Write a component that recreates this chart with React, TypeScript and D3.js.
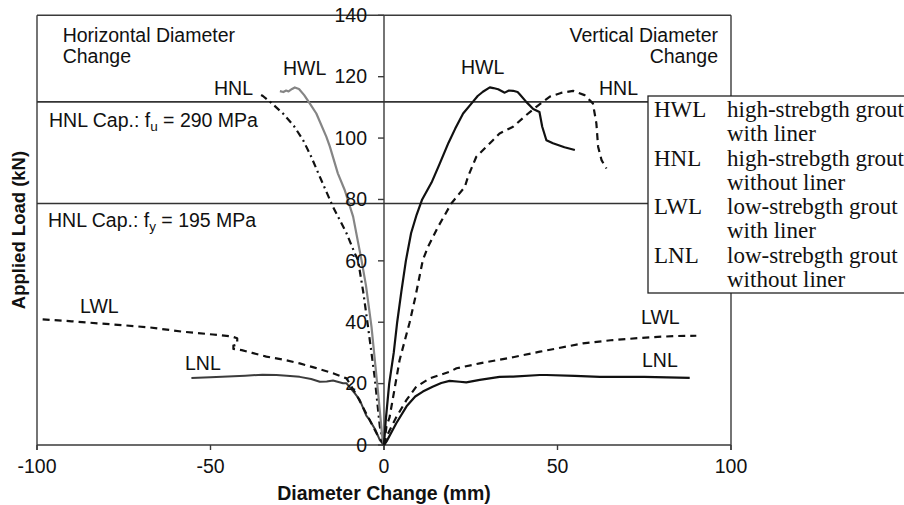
import React from "react";
import * as d3 from "d3";

type Pt = [number, number];

// Load (kN) against diameter change (mm); negative x = horizontal, positive x = vertical
const hwlHorizontal: Pt[] = [
  [0, 0], [-0.5, 2.7], [-1.7, 17], [-3.6, 38.5], [-5.2, 52], [-6.5, 60.3], [-8.9, 74.4],
  [-11.3, 83], [-13.3, 88.5], [-15.6, 97.2], [-16.6, 100.4], [-19.5, 108], [-21.4, 111.3],
  [-23, 114], [-24.5, 116], [-25.7, 116.5], [-26.5, 116], [-27.5, 115.2], [-28.2, 115.5],
  [-29, 115], [-30, 115.3],
];
const hnlHorizontal: Pt[] = [
  [0, 0], [-1.2, 6], [-2.7, 22.2], [-4.6, 38.5], [-6, 50], [-7.5, 60.3], [-8.4, 62.4],
  [-10.8, 69], [-14.7, 77.6], [-18.5, 87.4], [-21, 94], [-23.3, 99.3], [-26, 104],
  [-29.1, 108], [-32, 111], [-34.9, 113.7], [-36.3, 114.6],
];
const lwlHorizontal: Pt[] = [
  [0, 0], [-2, 3.5], [-5, 10], [-8, 16.5], [-10.8, 21.7], [-14.7, 23.4], [-20, 25.2],
  [-24.3, 26.6], [-29, 27.8], [-33.9, 28.8], [-38, 30], [-41, 30.9], [-43.4, 31.3],
  [-43.4, 32.4], [-42.3, 32.7], [-42.3, 34.8], [-44, 35.4], [-49.3, 36], [-57.9, 36.9],
  [-67.5, 38.3], [-75, 39], [-82, 39.6], [-90, 40.3], [-99.2, 41],
];
const lnlHorizontal: Pt[] = [
  [0, 0], [-1.2, 1.6], [-2.5, 5], [-4.1, 8.1], [-5.1, 9.6], [-7, 14.7], [-8.4, 16.8],
  [-10.8, 20.1], [-11.8, 20.1], [-14.7, 21], [-16.5, 20.7], [-18.5, 20.6], [-21, 21.5],
  [-24.3, 22.2], [-28, 22.6], [-31, 22.8], [-35, 22.9], [-40, 22.6], [-45, 22.3],
  [-50, 22.1], [-55.5, 21.8],
];
const hwlVertical: Pt[] = [
  [0, 0], [0.5, 8], [1.5, 20], [2.8, 30], [3.8, 40], [5, 50], [6.3, 60], [7.8, 69],
  [9.4, 75], [11, 80], [13.7, 85.5], [16, 91.5], [18.6, 98.5], [20.5, 103], [22.8, 108],
  [25.6, 111.8], [27, 113.7], [28.5, 115.1], [30.5, 116.5], [31.5, 116.3], [32.9, 115.9],
  [34.8, 114.8], [36, 115.5], [37.2, 115.4], [38.5, 115], [39.1, 114.3], [41, 111.8],
  [43, 109.5], [44.8, 108.5], [45.6, 103.7], [46.8, 99.3], [48.7, 98.3], [52, 97],
  [55, 96.1],
];
const hnlVertical: Pt[] = [
  [0, 0], [0.7, 6], [1.6, 9], [3, 18], [4.5, 27.7], [7.4, 40], [9, 48], [11.2, 60.3],
  [12.7, 64.6], [15.6, 71.1], [19.4, 78.7], [23.3, 84.1], [24.2, 87.4], [26.6, 93.9],
  [31.4, 99.3], [33.3, 101.5], [37.2, 103.7], [41, 107.5], [43.9, 110.2], [47.8, 113.5],
  [51, 114.7], [54.5, 115.4], [57.8, 114], [60.2, 111.3], [61.2, 104.8], [61.7, 97.2],
  [62.7, 92.8], [64.1, 90.1],
];
const lwlVertical: Pt[] = [
  [0, 0], [0.7, 2.7], [3.5, 9], [6.5, 14.7], [9.3, 19], [13.2, 21.7], [19, 23.9],
  [20.9, 25], [27.6, 26.6], [37.2, 28.6], [44.9, 30.4], [50, 31.5], [57.3, 33.1],
  [66, 34.2], [76.6, 35.1], [84, 35.5], [90, 35.6],
];
const lnlVertical: Pt[] = [
  [0, 0], [0.7, 1.1], [3.5, 7], [6.5, 12.6], [9, 15.8], [11.2, 17.4], [14, 19],
  [16.5, 20.2], [18.9, 20.9], [21.8, 20.6], [23.7, 20.4], [27.6, 21.2], [33.3, 22.2],
  [37.2, 22.3], [44.9, 22.8], [46.8, 22.8], [55, 22.5], [62.2, 22.2], [75, 22.2],
  [88.1, 21.9],
];

const xTicks = [-100, -50, 0, 50, 100];
const yTicks = [0, 20, 40, 60, 80, 100, 120, 140];
const capacityLines = [111.8, 78.7];

const legendCodes = ["HWL", "HNL", "LWL", "LNL"];
const legendLines = [
  ["high-strebgth grout", "with liner"],
  ["high-strebgth grout", "without liner"],
  ["low-strebgth grout", "with liner"],
  ["low-strebgth grout", "without liner"],
];

const sans = "'Liberation Sans', Arial, sans-serif";
const serif = "'Liberation Serif', 'Times New Roman', serif";

export default function App() {
  const width = 904;
  const height = 505;
  const x = d3.scaleLinear().domain([-100, 100]).range([37, 731]);
  const y = d3.scaleLinear().domain([0, 140]).range([445, 15.3]);
  const line = d3
    .line<Pt>()
    .x((d) => x(d[0]))
    .y((d) => y(d[1]));

  const frame = "#3a3a3a";

  const series: { data: Pt[]; color: string; dash?: string; w: number }[] = [
    { data: lnlHorizontal, color: "#3c3c3c", w: 2 },
    { data: lwlHorizontal, color: "#111", dash: "7,5", w: 2.2 },
    { data: hnlHorizontal, color: "#111", dash: "7,4,2,4", w: 2.2 },
    { data: hwlHorizontal, color: "#858585", w: 2.2 },
    { data: lnlVertical, color: "#111", w: 2.2 },
    { data: lwlVertical, color: "#111", dash: "7,5", w: 2.2 },
    { data: hnlVertical, color: "#111", dash: "7,5", w: 2.2 },
    { data: hwlVertical, color: "#111", w: 2.2 },
  ];

  const labels: { t: string; px: number; py: number }[] = [
    { t: "HWL", px: 283, py: 75 },
    { t: "HNL", px: 214, py: 95 },
    { t: "HWL", px: 461, py: 73.5 },
    { t: "HNL", px: 599, py: 95 },
    { t: "LWL", px: 80, py: 313 },
    { t: "LNL", px: 185, py: 370 },
    { t: "LWL", px: 641, py: 324 },
    { t: "LNL", px: 642, py: 366.5 },
  ];

  return (
    <svg
      width={width}
      height={height}
      style={{ position: "absolute", left: 0, top: 0, background: "#fff" }}
    >
      <rect width={width} height={height} fill="#fff" />

      {/* plot frame */}
      <g stroke={frame} strokeWidth={1.4} fill="none">
        <line x1={x(-100)} x2={x(100)} y1={y(140)} y2={y(140)} />
        <line x1={x(-100)} x2={x(100)} y1={y(0)} y2={y(0)} />
        <line x1={x(-100)} x2={x(-100)} y1={y(140)} y2={y(0) + 5} />
        <line x1={x(100)} x2={x(100)} y1={y(140)} y2={y(0) + 5} />
        <line x1={x(0)} x2={x(0)} y1={y(140)} y2={y(0) + 5} />
        {xTicks.map((t) => (
          <line key={t} x1={x(t)} x2={x(t)} y1={y(0)} y2={y(0) + 5} />
        ))}
        {yTicks.map((t) => (
          <line key={t} x1={x(0) - 6} x2={x(0)} y1={y(t)} y2={y(t)} />
        ))}
      </g>

      {/* capacity lines */}
      {capacityLines.map((v) => (
        <line
          key={v}
          x1={x(-100)}
          x2={x(100)}
          y1={y(v)}
          y2={y(v)}
          stroke="#333"
          strokeWidth={1.6}
        />
      ))}

      {/* curves */}
      <g fill="none" strokeLinejoin="round">
        {series.map((s, i) => (
          <path
            key={i}
            d={line(s.data) || ""}
            stroke={s.color}
            strokeWidth={s.w}
            strokeDasharray={s.dash}
          />
        ))}
      </g>

      {/* tick labels */}
      <g fontFamily={sans} fontSize={19.5} fill="#111">
        {yTicks.map((t) => (
          <text key={t} x={x(0) - 17} y={y(t) + 6.8} textAnchor="end">
            {t}
          </text>
        ))}
        {xTicks.map((t) => (
          <text key={t} x={x(t)} y={472.5} textAnchor="middle">
            {t}
          </text>
        ))}
      </g>

      {/* annotations */}
      <g fontFamily={sans} fontSize={19.5} fill="#111">
        <text x={62.7} y={41.5}>Horizontal Diameter</text>
        <text x={62.7} y={62.5}>Change</text>
        <text x={718} y={41.5} textAnchor="end">Vertical Diameter</text>
        <text x={718} y={62.5} textAnchor="end">Change</text>
        <text x={49} y={127.3}>
          HNL Cap.: f
          <tspan fontSize={13.5} dy={4}>u</tspan>
          <tspan dy={-4}> = 290 MPa</tspan>
        </text>
        <text x={48} y={227.3}>
          HNL Cap.: f
          <tspan fontSize={13.5} dy={4}>y</tspan>
          <tspan dy={-4}> = 195 MPa</tspan>
        </text>
        {labels.map((l, i) => (
          <text key={i} x={l.px} y={l.py}>
            {l.t}
          </text>
        ))}
      </g>

      {/* axis titles */}
      <g fontFamily={sans} fontWeight="bold" fill="#111">
        <text x={x(0)} y={499.5} textAnchor="middle" fontSize={19.5}>
          Diameter Change (mm)
        </text>
        <text transform="translate(25,230) rotate(-90)" textAnchor="middle" fontSize={18.5}>
          Applied Load (kN)
        </text>
      </g>

      {/* legend */}
      <rect x={648} y={96} width={270} height={197} fill="#fff" stroke="#222" strokeWidth={1.3} />
      <g fontFamily={serif} fontSize={23} fill="#111">
        {legendCodes.map((c, i) => (
          <g key={c}>
            <text x={654} y={117.3 + i * 48.4}>{c}</text>
            <text x={727} y={117.3 + i * 48.4}>{legendLines[i][0]}</text>
            <text x={727} y={141.3 + i * 48.4}>{legendLines[i][1]}</text>
          </g>
        ))}
      </g>
    </svg>
  );
}
